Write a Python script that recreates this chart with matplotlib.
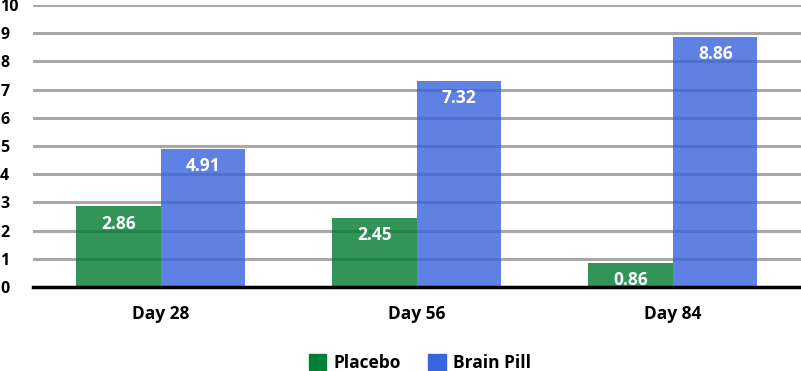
import numpy as np
import matplotlib.pyplot as plt

days = ["Day 28", "Day 56", "Day 84"]
placebo = [2.86, 2.45, 0.86]
brain_pill = [4.91, 7.32, 8.86]
yticks = list(range(0, 11))

plt.rcParams['font.family'] = ['Open Sans', 'DejaVu Sans']
plt.rcParams['font.weight'] = 'bold'

fig = plt.figure(figsize=(8.01, 3.71), dpi=100)
ax = fig.add_axes([0.041, 0.2264, 0.959, 0.7601])

x = np.arange(len(days))
w = 0.33
b1 = ax.bar(x - w / 2, placebo, w, color='#00792f', alpha=0.8, label='Placebo', zorder=3)
b2 = ax.bar(x + w / 2, brain_pill, w, color='#3762dc', alpha=0.8, label='Brain Pill', zorder=3)

for bars in (b1, b2):
    for rect in bars:
        h = rect.get_height()
        ax.annotate(f"{h:.2f}", (rect.get_x() + rect.get_width() / 2, h),
                    xytext=(0, -6), textcoords='offset points',
                    ha='center', va='top', color='white', fontsize=12.5, fontweight='bold',
                    zorder=4)

ax.set_xlim(-0.5, 2.5)
ax.set_ylim(0, 10)
ax.set_yticks(yticks)
ax.set_yticklabels([str(t) for t in yticks], ha='left')
ax.tick_params(axis='y', length=0, pad=23.5, labelsize=11.5)
ax.set_xticks(x)
ax.set_xticklabels(days)
ax.tick_params(axis='x', length=0, pad=13, labelsize=12.5)

ax.set_axisbelow(True)
ax.yaxis.grid(True, color='#a8a8a8', linewidth=2.2)
for s in ['top', 'right', 'left']:
    ax.spines[s].set_visible(False)
ax.spines['bottom'].set_linewidth(2.5)
ax.spines['bottom'].set_zorder(5)

handles = [plt.Rectangle((0, 0), 1, 1, color='#008037'),
           plt.Rectangle((0, 0), 1, 1, color='#3b65dd')]
fig.legend(handles, ['Placebo', 'Brain Pill'], loc='lower center',
           bbox_to_anchor=(0.524, -0.045), ncol=2, frameon=False, fontsize=12.5,
           handlelength=1.0, handleheight=1.0, handletextpad=0.4, columnspacing=1.6)

fig.savefig('out.png', dpi=100)
